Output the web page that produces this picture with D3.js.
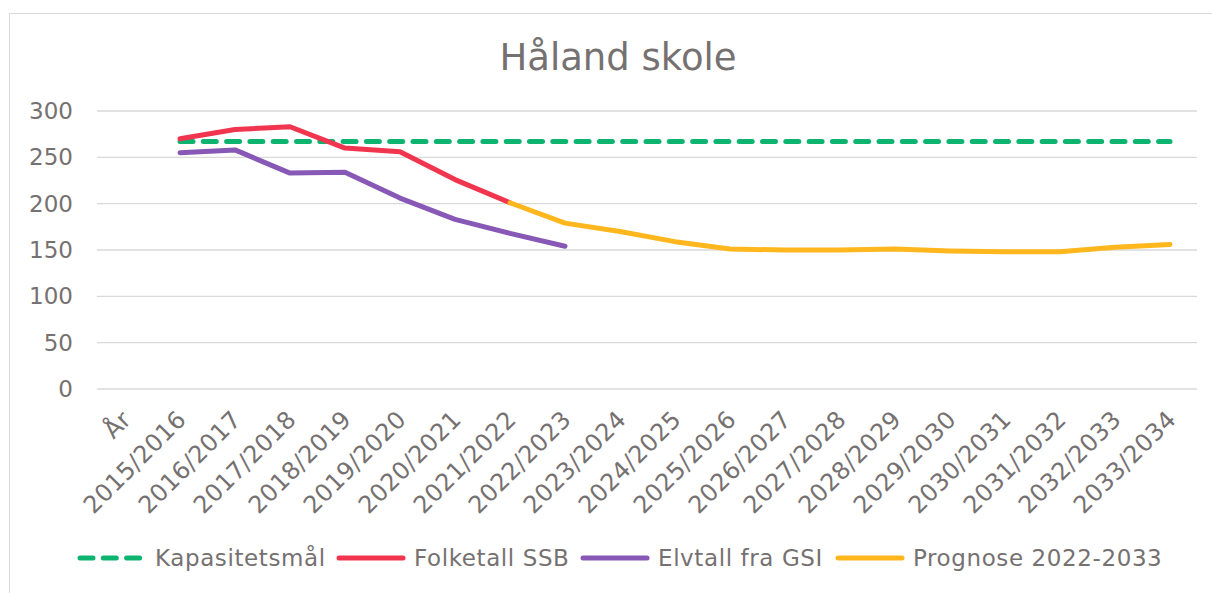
<!DOCTYPE html>
<html>
<head>
<meta charset="utf-8">
<script src="https://cdn.jsdelivr.net/npm/d3@7"></script>
<style>
  body { margin: 0; background: #fff; }
  svg { display: block; font-family: "DejaVu Sans", Verdana, sans-serif; }
</style>
</head>
<body>
<svg id="svg" width="1212" height="593"></svg>
<script>
var categories = ["År", "2015/2016", "2016/2017", "2017/2018", "2018/2019", "2019/2020",
  "2020/2021", "2021/2022", "2022/2023", "2023/2024", "2024/2025", "2025/2026",
  "2026/2027", "2027/2028", "2028/2029", "2029/2030", "2030/2031", "2031/2032",
  "2032/2033", "2033/2034"];

// null = no value for that year
var kapasitet = [null, 267, 267, 267, 267, 267, 267, 267, 267, 267, 267, 267, 267, 267, 267, 267, 267, 267, 267, 267];
var folketall = [null, 270, 280, 283, 260, 256, 226, 201, null, null, null, null, null, null, null, null, null, null, null, null];
var elevtall = [null, 255, 258, 233, 234, 206, 183, 168, 154, null, null, null, null, null, null, null, null, null, null, null];
var prognose = [null, null, null, null, null, null, null, 201, 179, 170, 159, 151, 150, 150, 151, 149, 148, 148, 153, 156];

var yTicks = [0, 50, 100, 150, 200, 250, 300];

var series = [
  {name: "Kapasitetsmål", values: kapasitet, color: "#0cb46f", dash: "13 10.3"},
  {name: "Folketall SSB", values: folketall, color: "#f2354f", dash: null},
  {name: "Elvtall fra GSI", values: elevtall, color: "#8758b6", dash: null},
  {name: "Prognose 2022-2033", values: prognose, color: "#ffb71d", dash: null}
];

var svg = d3.select("#svg");
var textColor = "#767171";

// outer chart border
svg.append("rect")
  .attr("x", 9.5).attr("y", 13.5)
  .attr("width", 1220).attr("height", 600)
  .attr("fill", "none")
  .attr("stroke", "#d9d9d9");

var x = d3.scalePoint()
  .domain(categories)
  .range([125, 1170]);

var y = d3.scaleLinear()
  .domain([0, 300])
  .range([389, 111]);

// title
svg.append("text")
  .attr("x", 618).attr("y", 70)
  .attr("text-anchor", "middle")
  .attr("font-size", 37)
  .attr("fill", textColor)
  .text("Håland skole");

// gridlines
svg.append("g")
  .selectAll("line")
  .data(yTicks)
  .enter()
  .append("line")
  .attr("x1", 97).attr("x2", 1197)
  .attr("y1", function (d) { return y(d); })
  .attr("y2", function (d) { return y(d); })
  .attr("stroke", "#d9d9d9")
  .attr("stroke-width", 1.3);

// y axis
var yAxis = svg.append("g")
  .attr("transform", "translate(97,0)")
  .call(d3.axisLeft(y).tickValues(yTicks).tickSize(0).tickPadding(24));
yAxis.select(".domain").remove();
yAxis.selectAll("text")
  .attr("font-size", 23)
  .attr("fill", textColor)
  .attr("font-family", "DejaVu Sans, Verdana, sans-serif");

// x axis
var xAxis = svg.append("g")
  .attr("transform", "translate(0,389)")
  .call(d3.axisBottom(x).tickSize(0).tickPadding(0));
xAxis.select(".domain").remove();
xAxis.selectAll("text")
  .attr("font-size", 24)
  .attr("letter-spacing", 0.3)
  .attr("fill", textColor)
  .attr("font-family", "DejaVu Sans, Verdana, sans-serif")
  .attr("text-anchor", "end")
  .attr("dy", null)
  .attr("transform", "translate(7,32) rotate(-45)");

// lines
var line = d3.line()
  .defined(function (d) { return d != null; })
  .x(function (d, i) { return x(categories[i]); })
  .y(function (d) { return y(d); });

svg.append("g")
  .selectAll("path")
  .data(series)
  .enter()
  .append("path")
  .attr("d", function (d) { return line(d.values); })
  .attr("fill", "none")
  .attr("stroke", function (d) { return d.color; })
  .attr("stroke-width", 5)
  .attr("stroke-linecap", "round")
  .attr("stroke-linejoin", "round")
  .attr("stroke-dasharray", function (d) { return d.dash; });

// legend
var legendX = [80, 339, 583, 838];
var legend = svg.append("g")
  .selectAll("g")
  .data(series)
  .enter()
  .append("g")
  .attr("transform", function (d, i) { return "translate(" + legendX[i] + ",558)"; });

legend.append("line")
  .attr("x1", 0).attr("x2", 64)
  .attr("y1", 0).attr("y2", 0)
  .attr("stroke", function (d) { return d.color; })
  .attr("stroke-width", 5)
  .attr("stroke-linecap", "round")
  .attr("stroke-dasharray", function (d) { return d.dash; });

legend.append("text")
  .attr("x", 75).attr("y", 8)
  .attr("font-size", 23)
  .attr("letter-spacing", 0.6)
  .attr("fill", textColor)
  .text(function (d) { return d.name; });
</script>
</body>
</html>
